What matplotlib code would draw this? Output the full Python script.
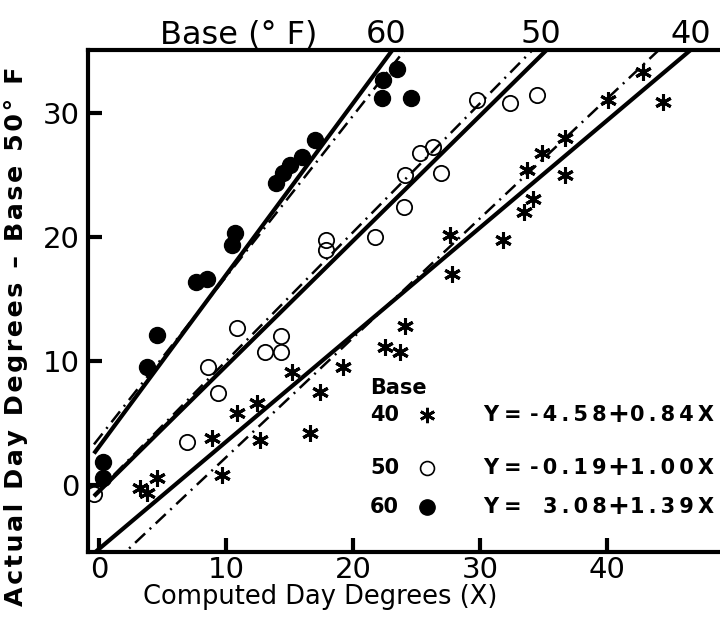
import numpy as np
import matplotlib
matplotlib.use('Agg')
import matplotlib.pyplot as plt
from matplotlib.transforms import blended_transform_factory

plt.rcParams['font.family'] = ['DejaVu Sans']

# base 60 (filled circles)
x60 = [0.3, 0.3, 3.8, 4.6, 7.6, 8.5, 10.5, 10.7, 13.9, 14.5, 15.0, 16.0, 17.0,
       22.3, 22.4, 23.5, 24.6]
y60 = [0.6, 1.9, 9.5, 12.1, 16.4, 16.6, 19.4, 20.3, 24.4, 25.2, 25.8, 26.5, 27.8,
       31.2, 32.7, 33.6, 31.2]

# base 50 (open circles)
x50 = [-0.4, 6.9, 8.6, 9.4, 10.9, 13.1, 14.3, 14.3, 17.9, 17.9, 21.7,
       24.0, 24.1, 25.3, 26.3, 26.9, 29.8, 32.4, 34.5]
y50 = [-0.7, 3.5, 9.5, 7.4, 12.7, 10.7, 12.0, 10.7, 19.8, 19.0, 20.0,
       22.4, 25.0, 26.8, 27.3, 25.2, 31.1, 30.8, 31.5]

# base 40 (asterisks)
x40 = [3.2, 3.8, 4.6, 9.7, 8.9, 10.9, 12.4, 12.7, 15.2, 16.6, 17.4, 19.2,
       22.5, 23.7, 24.1, 27.8, 27.6, 31.8, 33.5, 34.2, 33.7, 34.9, 36.7, 36.7,
       40.1, 42.8, 44.4]
y40 = [-0.2, -0.6, 0.6, 0.8, 3.8, 5.8, 6.6, 3.6, 9.1, 4.2, 7.5, 9.5,
       11.1, 10.7, 12.8, 17.0, 20.2, 19.8, 22.0, 23.1, 25.4, 26.8, 25.0, 28.0,
       31.1, 33.3, 30.9]

bases = ['40', '50', '60']
# regression equations printed in the key
eq_a = [-4.58, -0.19, 3.08]
eq_b = [0.84, 1.00, 1.39]
# solid lines as drawn on the figure
line_a = [-5.15, -0.5, 3.1]
line_b = [0.864, 1.01, 1.385]
# dash-dot comparison lines
alt_a = [-7.4, -0.4, 3.8]
alt_b = [0.964, 1.04, 1.30]
top_label_x = [46.6, 34.8, 22.6]


def spaced(s, sep='\u2009'):
    # the original lettering is widely spaced
    return sep.join(s)


fig = plt.figure(figsize=(7.2, 6.19), dpi=100)
ax = fig.add_axes([88 / 720, 1 - 552 / 619, (720 - 88) / 720, (552 - 50) / 619])

xx = np.linspace(-0.4, 50, 200)
for a, b in zip(line_a, line_b):
    ax.plot(xx, a + b * xx, color='black', lw=3.0, solid_capstyle='butt')
for a, b in zip(alt_a, alt_b):
    ax.plot(xx, a + b * xx, color='black', lw=1.8, linestyle=(0, (5.5, 2.5, 0.8, 2.5)))

ax.plot(x60, y60, 'o', color='black', markersize=11.5)
ax.plot(x50, y50, 'o', markerfacecolor='none', markeredgecolor='black',
        markersize=11, markeredgewidth=1.3)
ax.plot(x40, y40, linestyle='none', marker=(6, 2, 0), color='black',
        markersize=12, markeredgewidth=2.2)

ax.set_xlim(-0.87, 48.9)
ax.set_ylim(-5.4, 35.1)
ax.set_xticks([0, 10, 20, 30, 40])
ax.set_yticks([0, 10, 20, 30])
ax.tick_params(direction='in', length=10, width=3, labelsize=21, pad=3)
ax.tick_params(axis='y', pad=6)
for s in ['left', 'bottom', 'top']:
    ax.spines[s].set_linewidth(3)
ax.spines['right'].set_visible(False)

ax.set_xlabel('Computed Day Degrees (X)', fontsize=18.5, labelpad=0)
ax.xaxis.set_label_coords(0.367, -0.064)
ax.set_ylabel(spaced('Actual Day Degrees \u2013 Base 50\u00b0 F', '\u200a'),
              fontsize=18.3, fontweight='bold')
ax.yaxis.set_label_coords(-0.095, 0.43)

# top labels for base temperatures
trans = blended_transform_factory(ax.transData, ax.transAxes)
ax.text(11.0, 1.03, 'Base (\u00b0 F)', transform=trans,
        fontsize=23, ha='center', va='center')
for lab, xp in zip(bases, top_label_x):
    ax.text(xp, 1.03, lab, transform=trans, fontsize=23, ha='center', va='center')

# key block
kx = 21.34
ax.text(kx, 7.83, 'Base', fontsize=15, fontweight='bold', va='center')
rows_y = [5.66, 1.41, -1.73]
for lab, ry in zip(bases, rows_y):
    ax.text(kx, ry, lab, fontsize=15, fontweight='bold', va='center')
ax.plot([25.83], [rows_y[0]], linestyle='none', marker=(6, 2, 0), color='black',
        markersize=11, markeredgewidth=2.0)
ax.plot([25.83], [rows_y[1]], 'o', markerfacecolor='none', markeredgecolor='black',
        markersize=10, markeredgewidth=1.2)
ax.plot([25.83], [rows_y[2]], 'o', color='black', markersize=11)
for ry, a, b in zip(rows_y, eq_a, eq_b):
    ax.text(30.24, ry, 'Y', fontsize=15, fontweight='bold', va='center')
    ax.text(31.9, ry, '=', fontsize=15, fontweight='bold', va='center')
    ax.text(40.0, ry, spaced('%.2f' % a), fontsize=15, fontweight='bold',
            va='center', ha='right')
    ax.text(40.9, ry, '+', fontsize=19, fontweight='bold', va='center', ha='center')
    ax.text(48.4, ry, spaced('%.2fX' % b), fontsize=15, fontweight='bold',
            va='center', ha='right')

fig.savefig('out.png', dpi=100, facecolor='white')
